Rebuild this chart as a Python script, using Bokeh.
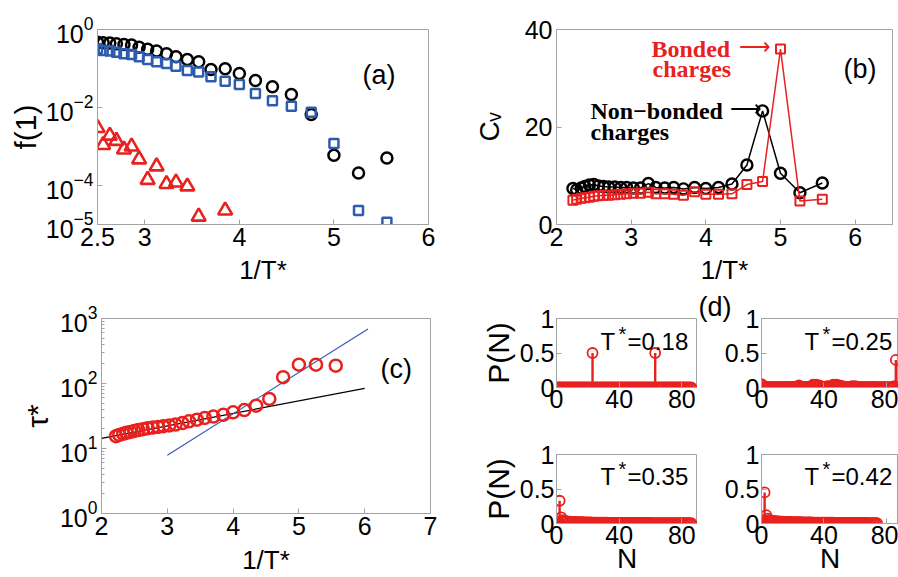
import math
from bokeh.plotting import figure
from bokeh.models import Label, FixedTicker, Range1d, ColumnDataSource
from bokeh.layouts import row, column
from bokeh.embed import file_html
from bokeh.resources import INLINE

# ---------------- data ----------------
# panel (a): f(1) vs 1/T*
inv_T_a = [2.5, 2.56, 2.63, 2.70, 2.78, 2.86, 2.94, 3.03, 3.125, 3.23, 3.33, 3.45,
           3.57, 3.70, 3.85, 4.0, 4.17, 4.35, 4.55, 4.76, 5.0, 5.26, 5.56]
f1_circles = [0.47, 0.46, 0.45, 0.43, 0.41, 0.40, 0.35, 0.31, 0.28, 0.24, 0.20, 0.17,
              0.149, 0.094, 0.098, 0.074, 0.049, 0.034, 0.0215, 0.0066, 6.0e-4, 2.1e-4, 5.1e-4]
f1_squares = [0.32, 0.29, 0.28, 0.26, 0.24, 0.23, 0.20, 0.17, 0.15, 0.134, 0.115, 0.089,
              0.081, 0.061, 0.047, 0.039, 0.023, 0.015, 0.0108, 0.0076, 1.2e-3, 2.3e-5, 1.15e-5]
inv_T_tri = [2.5, 2.56, 2.63, 2.70, 2.78, 2.86, 2.94, 3.03, 3.125, 3.23, 3.33, 3.45, 3.57, 3.85]
f1_triangles = [3.0e-3, 1.1e-3, 1.9e-3, 1.4e-3, 8.4e-4, 1.0e-3, 4.7e-4, 1.4e-4, 3.1e-4,
                1.1e-4, 1.2e-4, 9.5e-5, 1.6e-5, 2.3e-5]
a_xticks = [2.5, 3, 4, 5, 6]
a_yticks = [1e-5, 1e-4, 1e-2, 1]

# panel (b): Cv vs 1/T*
inv_T = [2.22, 2.27, 2.33, 2.38, 2.44, 2.5, 2.56, 2.63, 2.70, 2.78, 2.86, 2.94, 3.03, 3.125,
         3.23, 3.33, 3.45, 3.57, 3.70, 3.85, 4.0, 4.17, 4.35, 4.55, 4.76, 5.0, 5.26, 5.56]
cv_nonbonded = [7.4, 7.1, 7.5, 7.8, 8.1, 8.2, 7.9, 7.8, 7.7, 7.7, 7.6, 7.6, 7.5, 7.5,
                8.4, 7.6, 7.5, 7.6, 7.3, 7.6, 7.4, 7.6, 8.3, 12.2, 23.3, 10.5, 6.5, 8.5]
cv_bonded = [5.0, 5.2, 5.4, 5.5, 5.6, 5.8, 5.9, 6.0, 6.0, 6.1, 6.2, 6.3, 6.4, 6.4,
             6.6, 6.3, 6.3, 6.2, 6.0, 6.7, 6.2, 6.2, 6.3, 8.2, 8.8, 36.0, 4.8, 5.2]
b_xticks = [2, 3, 4, 5, 6]
b_yticks = [0, 20, 40]

# panel (c): tau* vs 1/T*
tau = [15.5, 16.2, 16.8, 17.4, 18.0, 18.6, 19.2, 19.8, 20.4, 21.0, 21.5, 22.0, 22.6, 23.3,
       24.6, 26.2, 27.7, 29.5, 31.0, 33.0, 36.0, 39.0, 45.6, 58.0, 125.0, 195.0, 195.0, 188.0]
fit_low_x = [2.0, 6.0]
fit_low_y = [14.3, 84.0]
fit_high_x = [3.0, 6.05]
fit_high_y = [7.9, 690.0]
c_xticks = [2, 3, 4, 5, 6, 7]
c_yticks = [1, 10, 100, 1000]

# panel (d): P(N) distributions
N_d = list(range(0, 87))
N_d4 = list(range(0, 75))
P_T018 = [0, 0, 0, 0, 0, 0, 0, 0, 0, 0,
          0, 0, 0, 0, 0, 0, 0, 0, 0, 0,
          0, 0, 0, 0.5, 0, 0, 0, 0, 0, 0,
          0, 0, 0, 0, 0, 0, 0, 0, 0, 0,
          0, 0, 0, 0, 0, 0, 0, 0, 0, 0,
          0, 0, 0, 0, 0, 0, 0, 0, 0, 0,
          0, 0, 0, 0.5, 0, 0, 0, 0, 0, 0,
          0, 0, 0, 0, 0, 0, 0, 0, 0, 0,
          0, 0, 0, 0, 0, 0, 0]
P_T025 = [0.05, 0.03, 0.01, 0.01, 0.005, 0.01, 0.005, 0.01, 0.005, 0.005,
          0.01, 0.005, 0.005, 0.01, 0.005, 0.005, 0.01, 0.005, 0.01, 0.005,
          0.01, 0.005, 0.01, 0.02, 0.03, 0.01, 0.005, 0.01, 0.005, 0.01,
          0.005, 0.01, 0.02, 0.04, 0.03, 0.04, 0.02, 0.03, 0.02, 0.01,
          0.005, 0.01, 0.02, 0.01, 0.02, 0.03, 0.04, 0.03, 0.04, 0.02,
          0.03, 0.01, 0.02, 0.01, 0.005, 0.01, 0.005, 0.01, 0.02, 0.01,
          0.02, 0.01, 0.005, 0.01, 0.005, 0.005, 0.01, 0.005, 0.005, 0.005,
          0.005, 0.005, 0.01, 0.005, 0.005, 0.005, 0.005, 0.005, 0.005, 0.005,
          0.005, 0.005, 0.005, 0.005, 0.01, 0.02, 0.40]
P_T035 = [0.0, 0.03, 0.33, 0.09, 0.05, 0.04, 0.035, 0.03, 0.028, 0.026,
          0.024, 0.023, 0.022, 0.021, 0.02, 0.019, 0.018, 0.018, 0.017, 0.016,
          0.016, 0.015, 0.015, 0.014, 0.014, 0.013, 0.013, 0.012, 0.012, 0.012,
          0.011, 0.011, 0.011, 0.01, 0.01, 0.01, 0.01, 0.009, 0.009, 0.009,
          0.009, 0.009, 0.008, 0.008, 0.008, 0.008, 0.008, 0.008, 0.007, 0.007,
          0.007, 0.007, 0.007, 0.007, 0.007, 0.007, 0.007, 0.007, 0.007, 0.007,
          0.006, 0.006, 0.006, 0.006, 0.006, 0.006, 0.006, 0.006, 0.006, 0.006,
          0.006, 0.006, 0.005, 0.005, 0.005, 0.005, 0.005, 0.005, 0.005, 0.005,
          0.005, 0.005, 0.005, 0.005, 0.005, 0.005, 0.005]
P_T042 = [0.0, 0.05, 0.45, 0.12, 0.07, 0.05, 0.045, 0.04, 0.036, 0.033,
          0.03, 0.029, 0.028, 0.027, 0.026, 0.025, 0.024, 0.023, 0.022, 0.021,
          0.02, 0.02, 0.019, 0.019, 0.018, 0.018, 0.017, 0.017, 0.016, 0.016,
          0.015, 0.015, 0.015, 0.014, 0.014, 0.014, 0.013, 0.013, 0.013, 0.012,
          0.012, 0.012, 0.012, 0.011, 0.011, 0.011, 0.011, 0.010, 0.010, 0.010,
          0.010, 0.010, 0.009, 0.009, 0.009, 0.009, 0.009, 0.008, 0.008, 0.008,
          0.008, 0.008, 0.008, 0.007, 0.007, 0.007, 0.007, 0.007, 0.007, 0.006,
          0.006, 0.006, 0.006, 0.006, 0.005]
d_xticks = [0, 40, 80]
d_yticks = [0, 0.5, 1]

# ---------------- style ----------------
FONT = "Liberation Sans"
SERIF = "Liberation Serif"
GREY = "#a3a3a3"
RED = "#e8211f"
BLUE = "#2d5caf"
TICK_SIZE = "25px"
SHIFT = 7  # label baseline correction (px, upward)


def make_fig(width, height, left, right, top, bottom, xr, yr, ylog=False):
    p = figure(width=width, height=height, x_range=Range1d(*xr), y_range=Range1d(*yr),
               y_axis_type="log" if ylog else "linear",
               output_backend="svg", toolbar_location=None)
    p.min_border_left = left
    p.min_border_right = right
    p.min_border_top = top
    p.min_border_bottom = bottom
    p.outline_line_color = GREY
    p.outline_line_width = 1
    p.grid.visible = False
    for ax in p.axis:
        ax.axis_line_color = GREY
        ax.major_tick_line_color = GREY
        ax.minor_tick_line_color = GREY
        ax.major_tick_in = 5
        ax.major_tick_out = 0
        ax.minor_tick_in = 3
        ax.minor_tick_out = 0
        ax.major_label_text_font = FONT
        ax.major_label_text_font_size = TICK_SIZE
        ax.major_label_text_color = "black"
        ax.axis_label_text_font = FONT
        ax.axis_label_text_font_style = "normal"
        ax.axis_label_text_color = "black"
    p.xaxis.major_label_standoff = 3
    p.yaxis.major_label_standoff = 4
    return p


def set_label(ax, text, size, standoff):
    ax.axis_label = text
    ax.axis_label_text_font_size = f"{size}px"
    ax.axis_label_standoff = standoff


def put(p, geom, text, px, py, size, color="black", font=FONT, style="normal"):
    left, bottom, xa, ya = geom
    p.add_layout(Label(x=xa, y=ya, x_offset=px - left, y_offset=bottom - py + SHIFT,
                       text=text, text_font=font, text_font_size=f"{size}px",
                       text_color=color, text_font_style=style,
                       text_align="left", text_baseline="alphabetic"))


# ---------------- panel (a) ----------------
pa = make_fig(450, 290, 97, 22, 29, 66, (2.5, 6.0), (1e-5, 1.0), ylog=True)
pa.xaxis.ticker = FixedTicker(ticks=a_xticks)
pa.xaxis.major_label_overrides = {2.5: "2.5", 3: "3", 4: "4", 5: "5", 6: "6"}
pa.yaxis.ticker = FixedTicker(ticks=a_yticks)
pa.yaxis.minor_tick_line_color = None
set_label(pa.xaxis[0], "1/T*", 26, 6)
set_label(pa.yaxis[0], "f(1)", 30, 1)
pa.scatter(inv_T_a, f1_circles, marker="circle", size=11, fill_color=None,
           line_color="black", line_width=2.5)
pa.scatter(inv_T_a, f1_squares, marker="square", size=9, fill_color=None,
           line_color=BLUE, line_width=2.5)
pa.scatter(inv_T_tri, f1_triangles, marker="triangle", size=14, fill_color=None,
           line_color=RED, line_width=2.6)
ga = (97, 224, 2.5, 1e-5)
put(pa, ga, "(a)", 362, 81, 27)

# ---------------- panel (b) ----------------
pb = make_fig(448, 290, 106, 6, 29, 65, (2.0, 6.5), (0.0, 40.0))
pb.xaxis.ticker = FixedTicker(ticks=b_xticks)
pb.yaxis.ticker = FixedTicker(ticks=b_yticks)
set_label(pb.xaxis[0], "1/T*", 26, 6)
set_label(pb.yaxis[0], "C\u1d65", 28, 17)
pb.line(inv_T, cv_nonbonded, line_color="black", line_width=1.5)
pb.scatter(inv_T, cv_nonbonded, marker="circle", size=11, fill_color=None,
           line_color="black", line_width=2.4)
pb.line(inv_T, cv_bonded, line_color=RED, line_width=1.5)
pb.scatter(inv_T, cv_bonded, marker="square", size=9, fill_color=None,
           line_color=RED, line_width=2)
gb = (556, 225, 2.0, 0.0)
put(pb, gb, "Bonded", 651, 56, 24, color=RED, font=SERIF, style="bold")
put(pb, gb, "\u27f6", 738, 54, 22, color=RED, font=SERIF)
put(pb, gb, "charges", 652, 76, 24, color=RED, font=SERIF, style="bold")
put(pb, gb, "Non\u2212bonded", 590, 118, 24, font=SERIF, style="bold")
put(pb, gb, "\u27f6", 729, 116, 22, font=SERIF)
put(pb, gb, "charges", 590, 139, 24, font=SERIF, style="bold")
put(pb, gb, "(b)", 843, 76, 27)

# ---------------- panel (c) ----------------
pc = make_fig(450, 287, 101, 20, 28, 64, (2.0, 7.0), (1.0, 1000.0), ylog=True)
pc.xaxis.ticker = FixedTicker(ticks=c_xticks)
pc.yaxis.ticker = FixedTicker(ticks=c_yticks,
                              minor_ticks=[m * d for d in (1, 10, 100) for m in range(2, 10)])
set_label(pc.xaxis[0], "1/T*", 26, 7)
set_label(pc.yaxis[0], "\u03c4*", 30, 3)
pc.line(fit_low_x, fit_low_y, line_color="black", line_width=1.2)
pc.line(fit_high_x, fit_high_y, line_color="#3b56b8", line_width=1.2)
pc.scatter(inv_T, tau, marker="circle", size=12, fill_color=None,
           line_color=RED, line_width=2.5)
gc = (101, 513, 2.0, 1.0)
put(pc, gc, "(c)", 380, 375, 27)


# ---------------- panel (d) ----------------
def dpanel(width, height, left, right, top, bottom, xr, N, P):
    p = make_fig(width, height, left, right, top, bottom, xr, (0.0, 1.0))
    p.xaxis.ticker = FixedTicker(ticks=d_xticks)
    p.yaxis.ticker = FixedTicker(ticks=d_yticks)
    p.yaxis.major_label_overrides = {0: "0", 0.5: "0.5", 1: "1"}
    p.xaxis.major_label_standoff = 2
    p.yaxis.major_label_standoff = 2
    src = ColumnDataSource(data=dict(N=N, P=P))
    p.segment(x0="N", y0=0, x1="N", y1="P", source=src, line_color=RED, line_width=2.4)
    p.scatter("N", "P", source=src, marker="circle", size=10, fill_color=None,
              line_color=RED, line_width=1.8)
    return p


d1 = dpanel(247, 130, 106, 0, 28, 33, (0, 90), N_d, P_T018)
d2 = dpanel(201, 130, 64, 0, 28, 33, (0, 87.7), N_d, P_T025)
d3 = dpanel(247, 157, 106, 0, 34, 54, (0, 90), N_d, P_T035)
d4 = dpanel(201, 157, 64, 0, 34, 54, (0, 87.7), N_d4, P_T042)
set_label(d1.yaxis[0], "P(N)", 30, 2)
set_label(d3.yaxis[0], "P(N)", 30, 2)
set_label(d3.xaxis[0], "N", 28, -4)
set_label(d4.xaxis[0], "N", 28, -4)

d2.title.text = "(d)"
d2.title.align = "left"
d2.title.offset = -63
d2.title.standoff = -6
d2.title.text_font = FONT
d2.title.text_font_style = "normal"
d2.title.text_font_size = "27px"
d2.title.text_color = "black"

g1 = (556, 387, 0, 0)
g2 = (761, 387, 0, 0)
g3 = (556, 523, 0, 0)
g4 = (761, 523, 0, 0)
for p, g, base, txt in ((d1, g1, 348, "=0.18"), (d2, g2, 348, "=0.25"),
                        (d3, g3, 483, "=0.35"), (d4, g4, 483, "=0.42")):
    x0 = 600 if g[0] == 556 else 804
    put(p, g, "T", x0, base, 24)
    put(p, g, "*", x0 + 18, base - 8, 20)
    put(p, g, txt, x0 + 27, base, 24)

layout = column(row(pa, pb), row(pc, column(row(d1, d2), row(d3, d4))))

open("out.html", "w").write(file_html(layout, INLINE))
